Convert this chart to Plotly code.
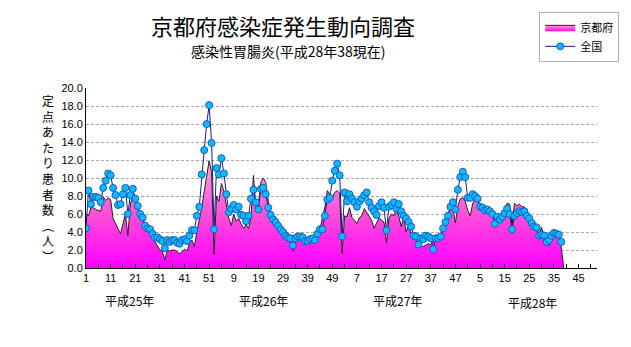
import plotly.graph_objects as go

# ---- data (weekly, 定点あたり患者数) ----
zenkoku_h25 = [4.4, 8.6, 7.1, 7.9, 7.9, 7.8, 7.3, 8.9, 9.7, 10.5, 10.3, 8.9, 8.1, 7.0, 7.1, 8.2,
               8.9, 6.0, 8.1, 8.8, 7.7, 6.9, 6.0, 5.6, 4.7, 4.4, 4.3, 3.8, 3.4, 3.4, 3.2, 3.0,
               2.2, 3.1, 2.9, 3.1, 3.1, 2.8, 2.7, 3.1, 3.2, 3.0, 3.6, 4.2, 4.2, 5.8, 6.8, 10.4,
               13.1, 16.0, 18.1, 13.9]
zenkoku_h26 = [4.3, 11.1, 10.4, 12.2, 10.5, 8.2, 6.2, 6.6, 7.0, 6.5, 6.8, 5.9, 5.8, 5.2, 5.8, 7.7,
               8.7, 7.3, 6.5, 8.8, 8.9, 8.2, 6.7, 5.9, 5.4, 5.1, 4.7, 4.3, 4.0, 3.6, 3.4, 3.3,
               2.5, 3.3, 3.5, 3.5, 3.4, 3.0, 3.0, 3.2, 3.3, 3.1, 3.8, 4.3, 4.3, 5.8, 7.6, 7.8,
               9.7, 10.8, 11.6, 10.3]
zenkoku_h27 = [3.5, 8.4, 7.4, 8.2, 7.7, 7.3, 6.8, 7.4, 7.7, 8.1, 8.4, 7.3, 6.7, 6.3, 5.9, 6.9,
               7.3, 6.7, 4.2, 6.8, 7.0, 7.3, 6.6, 7.1, 6.3, 5.8, 5.5, 5.1, 4.6, 3.6, 3.5, 2.6,
               3.3, 3.2, 3.6, 3.5, 3.3, 2.1, 3.3, 3.3, 3.5, 4.4, 5.1, 5.8, 6.8, 7.3, 6.5, 8.7,
               10.1, 10.7, 10.1, 7.8]
zenkoku_h28 = [7.8, 8.2, 8.0, 7.7, 6.8, 6.7, 6.4, 6.5, 6.3, 6.0, 4.9, 5.7, 5.4, 5.7, 6.1, 6.6,
               6.0, 4.3, 5.8, 6.1, 6.3, 6.2, 6.3, 5.8, 5.5, 5.0, 4.6, 4.5, 3.6, 3.7, 3.6, 2.9,
               3.1, 3.6, 3.9, 3.8, 3.7, 2.9]

kyoto_h25 = [6.0, 5.8, 6.7, 6.7, 6.5, 6.4, 6.3, 7.9, 7.5, 7.8, 7.6, 5.5, 4.9, 4.3, 3.8, 4.9,
             6.0, 3.6, 7.1, 8.0, 7.3, 6.5, 6.1, 5.4, 4.8, 4.3, 4.0, 3.4, 2.9, 2.4, 2.0, 1.9,
             0.9, 2.0, 1.9, 2.0, 2.0, 1.8, 1.6, 1.8, 2.1, 1.9, 2.7, 3.1, 2.4, 4.0, 5.3, 6.7,
             8.5, 10.5, 11.9, 10.6]
kyoto_h26 = [1.5, 8.0, 7.4, 9.4, 8.5, 7.0, 5.5, 4.7, 6.0, 5.2, 5.5, 4.9, 4.4, 4.8, 4.4, 5.6,
             10.3, 6.6, 7.0, 9.5, 10.0, 9.5, 7.5, 6.2, 5.6, 5.1, 4.7, 4.3, 3.9, 3.5, 3.2, 3.0,
             1.9, 2.9, 3.3, 3.4, 3.2, 3.0, 2.9, 3.1, 3.0, 3.2, 3.9, 4.3, 5.6, 6.8, 8.6, 8.2,
             7.8, 8.4, 8.6, 8.3]
kyoto_h27 = [1.6, 5.8, 5.7, 6.7, 5.6, 5.3, 4.9, 5.6, 5.8, 6.6, 6.2, 5.8, 5.3, 4.4, 5.0, 5.6,
             5.3, 5.1, 2.8, 5.5, 6.0, 5.8, 6.5, 5.8, 4.6, 5.6, 4.0, 4.8, 3.7, 3.4, 3.1, 2.5,
             2.4, 2.4, 2.6, 2.7, 2.6, 3.0, 3.3, 3.7, 3.8, 4.6, 5.6, 6.2, 6.4, 6.6, 5.0, 6.9,
             7.7, 7.8, 7.4, 6.4]
kyoto_h28 = [5.8, 7.1, 7.8, 7.7, 6.9, 6.8, 6.6, 6.5, 6.3, 6.0, 5.6, 5.8, 5.6, 5.8, 6.2, 7.2,
             7.1, 4.7, 7.2, 6.9, 7.1, 6.8, 6.8, 6.0, 5.6, 5.1, 4.9, 4.2, 3.8, 4.5, 3.4, 2.7,
             2.5, 3.8, 4.0, 3.8, 3.9, 2.3, 0.0]

weeks_per_year = 52
year_labels = ["平成25年", "平成26年", "平成27年", "平成28年"]
y_tick_values = [0, 2, 4, 6, 8, 10, 12, 14, 16, 18, 20]
y_title = "定点あたり患者数︵人︶"

zenkoku = zenkoku_h25 + zenkoku_h26 + zenkoku_h27 + zenkoku_h28
kyoto = kyoto_h25 + kyoto_h26 + kyoto_h27 + kyoto_h28
n_total = weeks_per_year * 4
x_zen = list(range(1, len(zenkoku) + 1))
x_kyo = list(range(1, len(kyoto) + 1))

# x ticks: every 5 weeks, label every 10
tickvals = list(range(1, n_total + 1, 5))
ticktext = [str((v - 1) % weeks_per_year + 1) if (v - 1) % 10 == 0 else "" for v in tickvals]

font_jp = "Noto Sans CJK JP"
W, H = 631, 347
L, R, T, B = 86, 32, 86, 79
PW, PH = W - L - R, H - T - B


def px_x(px):
    return (px - L) / PW


def px_y(py):
    return (H - B - py) / PH


fig = go.Figure()
fig.add_trace(go.Scatter(
    x=x_kyo, y=kyoto, name="京都府", mode="lines",
    line=dict(color="#222222", width=1),
    fill="tozeroy",
    fillgradient=dict(type="vertical", start=0, stop=12,
                      colorscale=[[0, "#ff00ff"], [0.5, "#ff50d8"], [1, "#ffa4e4"]]),
))
fig.add_trace(go.Scatter(
    x=x_zen, y=zenkoku, name="全国", mode="lines+markers",
    line=dict(color="#1a1a8c", width=1),
    marker=dict(size=7, color="#10b8ff", line=dict(color="#1060c0", width=1)),
))

fig.update_xaxes(
    range=[1, n_total + 0.5], tickmode="array", tickvals=tickvals, ticktext=ticktext,
    ticks="inside", ticklen=4, tickcolor="black", showline=True, linecolor="black",
    linewidth=1, showgrid=False, zeroline=False,
    tickfont=dict(family="Liberation Sans", size=11, color="black"),
)
fig.update_yaxes(
    range=[0, 20], tickmode="array", tickvals=y_tick_values,
    ticktext=[f"{v:.1f}" for v in y_tick_values],
    showline=True, linecolor="black", linewidth=1, ticks="",
    showgrid=True, gridcolor="#a8a8a8", griddash="3px,2px", gridwidth=1, zeroline=False,
    tickfont=dict(family="Liberation Sans", size=11, color="black"),
)

annotations = []
# year labels
year_pos = [18.5, 73, 127.5, 182.5]
for lab, xp, dy in zip(year_labels, year_pos, [0, 0, 0, 2]):
    annotations.append(dict(x=xp, y=0, xref="x", yref="y", text=lab, showarrow=False,
                            yshift=-32 - dy, font=dict(family=font_jp, size=12, color="black")))
# subtitle
annotations.append(dict(x=px_x(289), y=px_y(49), xref="paper", yref="paper",
                        xanchor="center", yanchor="middle",
                        text="感染性胃腸炎(平成28年38現在)",
                        showarrow=False, font=dict(family=font_jp, size=14, color="black")))
# vertical y-axis title (stacked characters)
annotations.append(dict(x=px_x(48), y=px_y(178), xref="paper", yref="paper",
                        xanchor="center", yanchor="middle",
                        text="<br>".join(list(y_title)), showarrow=False, borderpad=0,
                        font=dict(family=font_jp, size=12, color="black")))

fig.update_layout(
    width=W, height=H, margin=dict(l=L, r=R, t=T, b=B),
    paper_bgcolor="white", plot_bgcolor="white",
    title=dict(text="京都府感染症発生動向調査", x=283 / W, xanchor="center", y=1 - 27 / H,
               yanchor="middle", xref="container", yref="container",
               font=dict(family=font_jp, size=22, color="black")),
    legend=dict(x=px_x(541), y=px_y(9), xanchor="left", yanchor="top",
                bordercolor="#b0b0b0", borderwidth=1, bgcolor="white",
                font=dict(family=font_jp, size=11, color="black"),
                itemwidth=30, tracegroupgap=0),
    annotations=annotations,
    showlegend=True,
)

fig.write_html("out.html")
